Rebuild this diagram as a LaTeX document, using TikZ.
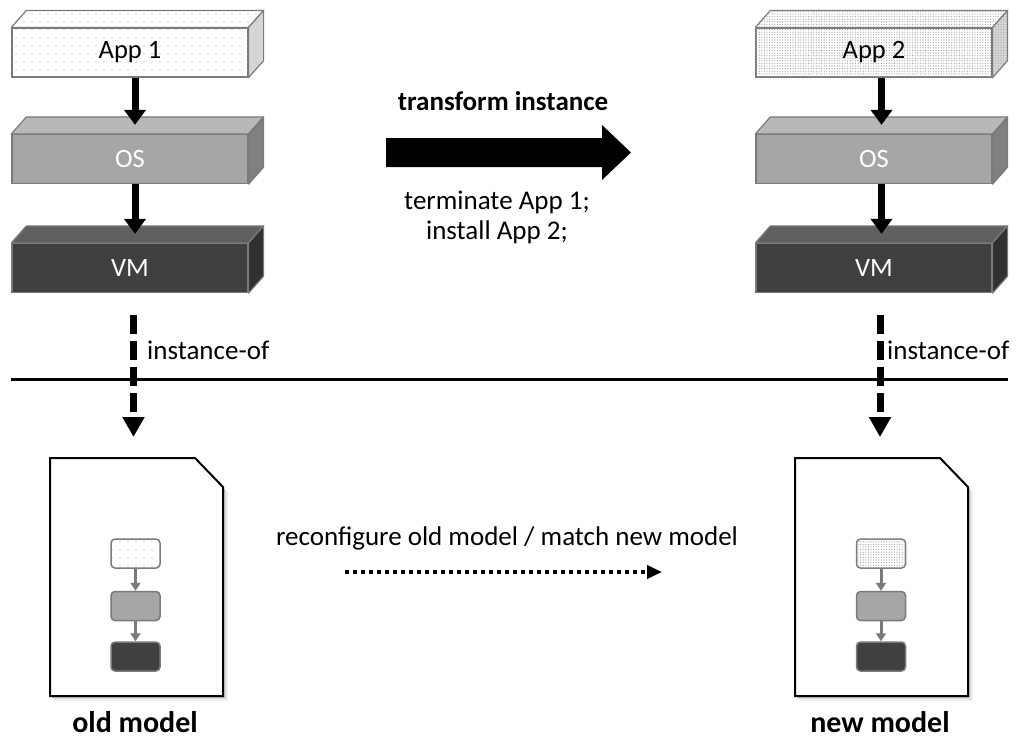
\documentclass[tikz,border=0pt]{standalone}
\usepackage{fontspec}
\setmainfont{Carlito}
\usetikzlibrary{arrows.meta,patterns.meta,calc}
\definecolor{osfront}{HTML}{A6A6A6}
\definecolor{ostop}{HTML}{B8B8B8}
\definecolor{osside}{HTML}{808080}
\definecolor{vmfront}{HTML}{404040}
\definecolor{vmtop}{HTML}{606060}
\definecolor{vmside}{HTML}{303030}
\definecolor{edgegray}{HTML}{7A7A7A}
\definecolor{appside}{HTML}{D6D6D6}
\tikzset{
  slabfront/.style={draw=edgegray, line width=1.2pt, minimum width=236pt, minimum height=49pt, inner sep=0pt, font=\fontsize{26.5}{30}\selectfont},
  slabedge/.style={draw=edgegray, line width=1.2pt, line join=round},
  sparsedots/.style={postaction={pattern={Dots[distance=8pt,radius=0.55pt]}, pattern color=gray!80}},
  densedots/.style={postaction={pattern={Dots[distance=2.6pt,radius=0.6pt]}, pattern color=gray!75}},
  stackarrow/.style={line width=7pt, -{Triangle[width=21pt,length=15pt]}},
  instarrow/.style={line width=7pt, dash pattern=on 19pt off 7pt, -{Triangle[width=21pt,length=20pt]}},
  lbl/.style={font=\fontsize{27}{31}\selectfont, inner sep=0pt},
  bigbold/.style={font=\fontsize{30}{34}\selectfont\bfseries, inner sep=0pt},
  doc/.style={draw=black, line width=2pt, fill=white, line join=miter},
  mini/.style={draw=edgegray, line width=1.5pt, rounded corners=4pt, minimum width=49pt, minimum height=29pt, inner sep=0pt},
  miniarrow/.style={draw=edgegray, line width=3pt, -{Triangle[width=10pt,length=8pt]}},
}
\newcommand\slab[7]{%
  \node[slabfront, fill=#3, #7] (#1) at #2 {#6};
  \draw[slabedge, fill=#4, #7] (#1.north west) -- ++(15pt,17pt) -- ([shift={(15pt,17pt)}]#1.north east) -- (#1.north east) -- cycle;
  \draw[slabedge, fill=#5, #7] (#1.north east) -- ++(15pt,17pt) -- ([shift={(15pt,17pt)}]#1.south east) -- (#1.south east) -- cycle;
}
\newcommand\docshape[4]{% name, x-left, y-top (px, y down), extra
  \foreach \s/\c in {5/5,4/9,3/14,2/20}{
    \fill[black!\c] (#2+\s,#3+29+\s) -- (#2+173+\s,#3+29+\s) -- (#2+173+\s,#3+238+\s) -- (#2+\s,#3+238+\s) -- cycle;
  }
  \draw[doc] (#2,#3) -- (#2+145,#3) -- (#2+173,#3+29) -- (#2+173,#3+238) -- (#2,#3+238) -- cycle;
  \coordinate (#1) at (#2+86.5,#3);
}
\begin{document}
\begin{tikzpicture}[x=1pt,y=-1pt]
\useasboundingbox (0,0) rectangle (1028,742);

% left stack
\slab{appA}{(130,52.5)}{white}{white}{appside}{App 1}{sparsedots}
\slab{osA}{(130,159)}{osfront}{ostop}{osside}{\textcolor{white}{OS}}{}
\slab{vmA}{(130,268)}{vmfront}{vmtop}{vmside}{\textcolor{white}{VM}}{}

% right stack
\slab{appB}{(874,52.5)}{white}{white}{appside}{App 2}{densedots}
\slab{osB}{(874,159)}{osfront}{ostop}{osside}{\textcolor{white}{OS}}{}
\slab{vmB}{(874,268)}{vmfront}{vmtop}{vmside}{\textcolor{white}{VM}}{}

\draw[stackarrow] ([xshift=5pt]appA.south) -- ([shift={(5pt,9pt)}]osA.north);
\draw[stackarrow] ([xshift=5pt]osA.south) -- ([shift={(5pt,9pt)}]vmA.north);
\draw[stackarrow] ([xshift=7.5pt]appB.south) -- ([shift={(7.5pt,9pt)}]osB.north);
\draw[stackarrow] ([xshift=7.5pt]osB.south) -- ([shift={(7.5pt,9pt)}]vmB.north);

% separator
\coordinate (sepL) at (11,379);
\coordinate (sepR) at (1008,379);
\draw[line width=3pt] (sepL) -- (sepR);

% documents
\docshape{docA}{50}{458}{}
\docshape{docB}{795}{458}{}

% instance-of arrows
\coordinate (iA) at (133.5,315);
\coordinate (iB) at (880,315);
\draw[instarrow] (iA) -- ([shift={(-3pt,21pt)}]docA);
\draw[instarrow] (iB) -- ([shift={(-1.5pt,21pt)}]docB);
\node[lbl, anchor=west] (lblA) at (147,350) {instance-of};
\node[lbl, anchor=west] (lblB) at (887,350) {instance-of};

% mini models
\node[mini, fill=white, sparsedots] (mA1) at (135.5,553.5) {};
\node[mini, fill=osfront] (mA2) at (135.5,606) {};
\node[mini, fill=vmfront] (mA3) at (135.5,656.5) {};
\draw[miniarrow] (mA1) -- (mA2);
\draw[miniarrow] (mA2) -- (mA3);
\node[mini, fill=white, densedots] (mB1) at (881,553.5) {};
\node[mini, fill=osfront] (mB2) at (881,606) {};
\node[mini, fill=vmfront] (mB3) at (881,656.5) {};
\draw[miniarrow] (mB1) -- (mB2);
\draw[miniarrow] (mB2) -- (mB3);

\node[bigbold] (oldlbl) at (135,722) {old model};
\node[bigbold] (newlbl) at (880,722) {new model};

% transform arrow
\node[lbl, font=\fontsize{27}{31}\selectfont\bfseries] (tr) at (503,101) {transform instance};
\fill[black] (386,138) -- (602,138) -- (602,125) -- (631,152.5) -- (602,180) -- (602,167) -- (386,167) -- cycle;
\node[lbl, align=center, font=\fontsize{27}{30}\selectfont] (tsteps) at (497,217) {terminate App 1;\\install App 2;};

% reconfigure
\node[lbl] (recon) at (507,538) {reconfigure old model / match new model};
\coordinate (rS) at (345,572);
\coordinate (rE) at (662,572);
\draw[line width=4pt, dash pattern=on 4pt off 4pt, -{Triangle[width=13pt,length=15pt]}] (rS) -- (rE);
\end{tikzpicture}
\end{document}
